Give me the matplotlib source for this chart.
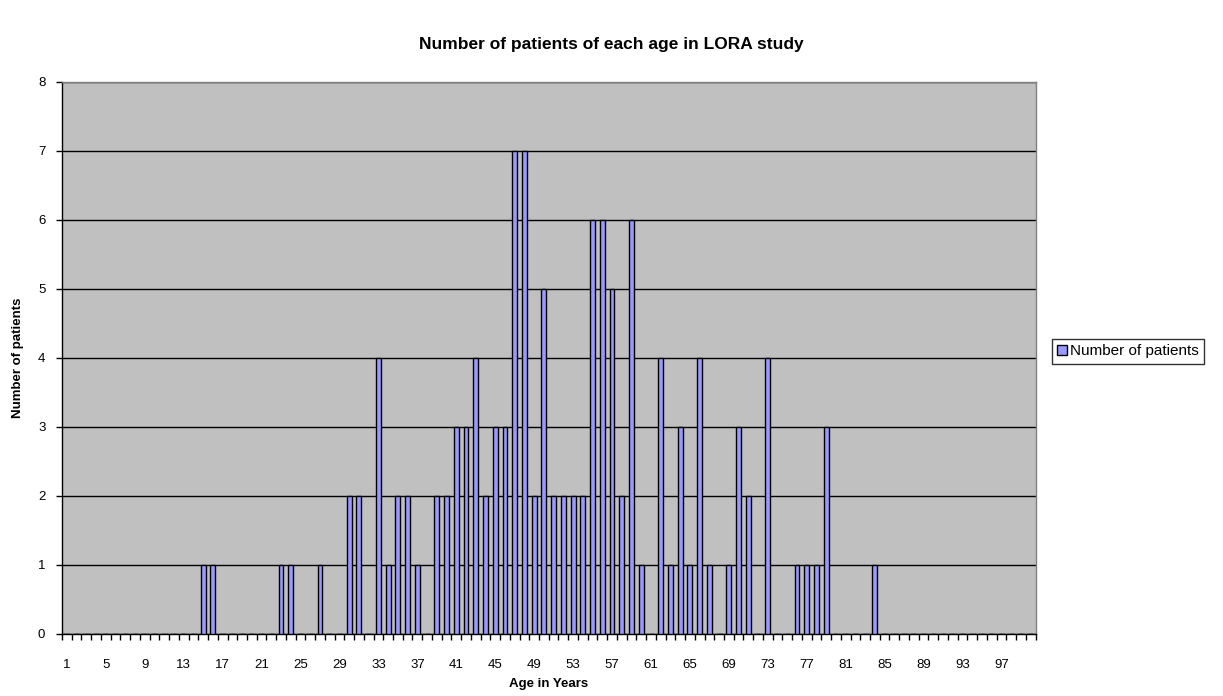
import numpy as np
import matplotlib
matplotlib.use("Agg")
import matplotlib.pyplot as plt
from matplotlib.patches import Patch

plt.rcParams['font.family'] = ['Liberation Sans', 'DejaVu Sans']

# ages 1..100, count of patients per age
ages = np.arange(1, 101)
counts_by_age = {
    15: 1, 16: 1, 23: 1, 24: 1, 27: 1, 30: 2, 31: 2, 33: 4, 34: 1, 35: 2,
    36: 2, 37: 1, 39: 2, 40: 2, 41: 3, 42: 3, 43: 4, 44: 2, 45: 3, 46: 3,
    47: 7, 48: 7, 49: 2, 50: 5, 51: 2, 52: 2, 53: 2, 54: 2, 55: 6, 56: 6,
    57: 5, 58: 2, 59: 6, 60: 1, 62: 4, 63: 1, 64: 3, 65: 1, 66: 4, 67: 1,
    69: 1, 70: 3, 71: 2, 73: 4, 76: 1, 77: 1, 78: 1, 79: 3, 84: 1,
}
counts = [counts_by_age.get(a, 0) for a in ages]
tick_ages = ages[::4]

fig = plt.figure(figsize=(12.23, 6.96), dpi=100)
ax = fig.add_axes([0.0507, 0.0891, 0.796, 0.7935])
ax.set_facecolor('#C0C0C0')

ax.bar(ages, counts, width=0.5, color='#9999FF', edgecolor='black',
       linewidth=1, zorder=3)

ax.set_xlim(0.5, 100.5)
ax.set_ylim(0, 8)
ax.set_yticks(range(0, 9))
ax.yaxis.grid(True, color='black', linewidth=1)
ax.set_axisbelow(True)

ax.set_xticks(tick_ages)
ax.set_xticklabels([str(a) for a in tick_ages])
ax.set_xticks(np.arange(0.5, 101, 1), minor=True)
ax.tick_params(axis='x', which='major', length=0, pad=18, labelsize=9.5)
ax.tick_params(axis='x', which='minor', length=4, direction='out', width=1)
ax.tick_params(axis='y', length=4, direction='out', width=1, labelsize=9.5,
               pad=8)

for s in ['left', 'bottom']:
    ax.spines[s].set_color('black')
    ax.spines[s].set_linewidth(1)
for s in ['top', 'right']:
    ax.spines[s].set_color('#808080')
    ax.spines[s].set_linewidth(1)

ax.set_xlabel('Age in Years', fontsize=9.5, fontweight='bold', labelpad=5)
ax.set_ylabel('Number of patients', fontsize=9.5, fontweight='bold', labelpad=10)
fig.suptitle('Number of patients of each age in LORA study', x=0.5, y=0.947,
             fontsize=12.5, fontweight='bold')

leg = fig.legend(handles=[Patch(facecolor='#9999FF', edgecolor='black',
                                label='Number of patients')],
                 loc='center left', bbox_to_anchor=(0.854, 0.495),
                 fontsize=11, frameon=True, fancybox=False,
                 handlelength=0.6, handleheight=0.6, handletextpad=0.2,
                 borderpad=0.35)
leg.get_frame().set_edgecolor('black')
leg.get_frame().set_linewidth(1)

fig.savefig('out.png', dpi=100)
